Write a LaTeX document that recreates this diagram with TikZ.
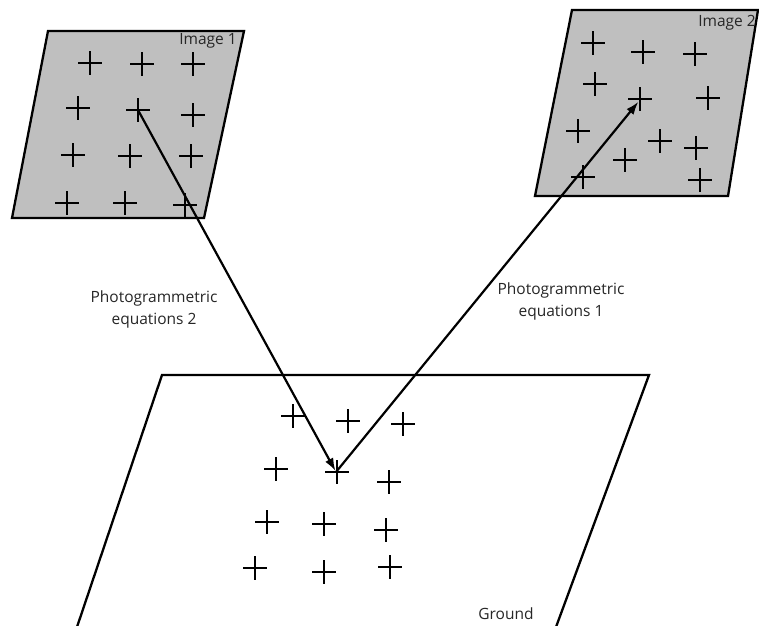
\documentclass[tikz,border=0pt]{standalone}
\usepackage{fontspec}
\setmainfont{Open Sans}
\usetikzlibrary{arrows.meta}
\definecolor{imgfill}{RGB}{191,191,191}
\begin{document}
\begin{tikzpicture}[x=1pt,y=-1pt,
  plane/.style={draw=black,line width=2.3pt,line join=miter},
  crs/.style={line width=1.9pt},
  ray/.style={line width=2.2pt,-{Latex[length=13pt,width=9pt]},shorten >=1pt},
  lbl/.style={font=\fontsize{15.5}{22}\selectfont,text=black!85,align=center,inner sep=0pt}]
\useasboundingbox (0,0) rectangle (759,625);
% planes
\draw[plane,fill=imgfill] (48,31) -- (244,31) -- (204,218) -- (12,218) -- cycle;
\draw[plane,fill=imgfill] (572,10) -- (758,10) -- (728,196) -- (535,196) -- cycle;
\draw[plane] (77,627) -- (162,375) -- (649,375) -- (556,627);
% crosses
\newcommand{\crossmark}[2]{\draw[crs] (#1-12,#2) -- (#1+12,#2) (#1,#2-12) -- (#1,#2+12);}
\foreach \p/\q in {90/63,142/64,193/64,78/108,138/110,193/115,73/155,130/156,191/156,67/203,125/203,185/205}
  {\crossmark{\p}{\q}}
\foreach \p/\q in {593/43,643/52,695/54,595/84,640/99,708/98,578/131,660/141,696/148,625/160,583/177,700/180}
  {\crossmark{\p}{\q}}
\foreach \p/\q in {293/416,348/421,403/424,276/469,337/472,389/482,267/522,324/524,386/530,255/568,324/572,390/567}
  {\crossmark{\p}{\q}}
% ray end points
\coordinate (i1) at (138,110);
\coordinate (g) at (336,472);
\coordinate (i2) at (639,101);
\draw[ray] (i1) -- (g);
\draw[ray] (g) -- (i2);
% labels
\node[lbl] (t1) at (208,41) {Image 1};
\node[lbl] (t2) at (727,23) {Image 2};
\node[lbl] (t3) at (506,614) {Ground};
\node[lbl] (pe2) at (154,309) {Photogrammetric\\equations 2};
\node[lbl] (pe1) at (561,301) {Photogrammetric\\equations 1};
\end{tikzpicture}
\end{document}
